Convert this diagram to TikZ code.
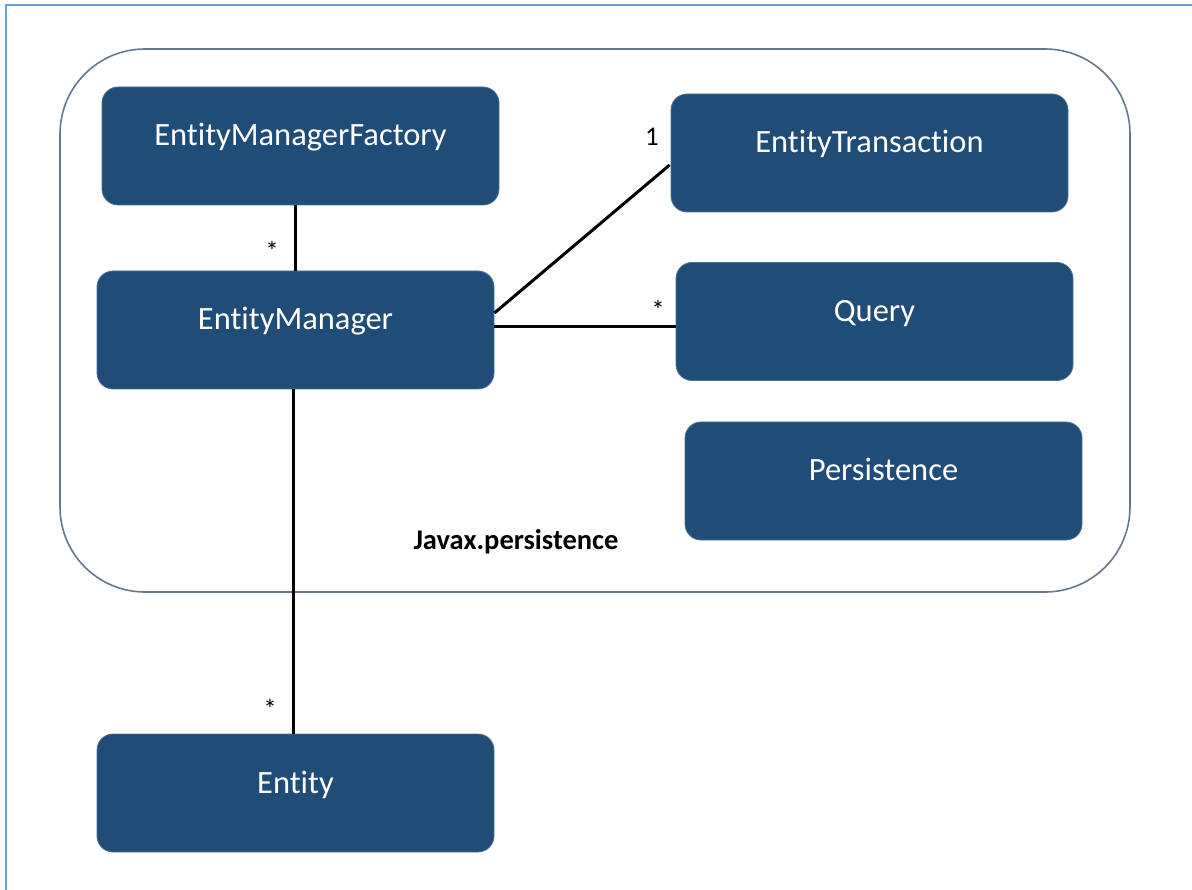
\documentclass[tikz,border=0pt]{standalone}
\usepackage{fontspec}
\setmainfont{Carlito}[Ligatures=NoCommon]
\usetikzlibrary{calc}
\definecolor{boxblue}{HTML}{1F4D78}
\definecolor{frameblue}{HTML}{6A9FD8}
\definecolor{pkggray}{HTML}{66788C}
\begin{document}
\begin{tikzpicture}[x=1pt,y=-1pt,
  cls/.style={rectangle, rounded corners=16pt, fill=boxblue, draw=boxblue!80!white, line width=0.8pt,
    minimum width=397pt, minimum height=118pt, inner sep=0pt,
    text height=20pt, text depth=20pt, text=white,
    font=\fontsize{32.5}{38}\selectfont},
  assoc/.style={draw=black, line width=3pt},
  mult/.style={font=\fontsize{27}{30}\selectfont, inner sep=0pt, text=black}]
\useasboundingbox (0,0) rectangle (1192,890);
\fill[white] (0,0) rectangle (1192,890);
% outer frame
\draw[frameblue, line width=2pt] (6,890) -- (6,5) -- (1192,5);
% package
\node[draw=pkggray, line width=1.6pt, rounded corners=85pt, minimum width=1070pt, minimum height=543pt, inner sep=0pt] (pkg) at (595,320.5) {};
\node[font=\bfseries\fontsize{28.5}{32}\selectfont, inner sep=0pt, anchor=base] (pkglabel) at (516,549) {Javax.persistence};
% classes
\node[cls] (emf) at (300.5,146) {EntityManagerFactory};
\node[cls] (em) at (295.5,330) {EntityManager};
\node[cls] (et) at (869.5,153) {EntityTransaction};
\node[cls] (query) at (874.5,321.5) {Query};
\node[cls] (pers) at (883.5,481) {Persistence};
\node[cls] (entity) at (295.5,793) {Entity};
% connectors
\draw[assoc] (em.north |- emf.south) -- (em.north);
\draw[assoc] ($(em.east)+(0,-17)$) -- ($(et.west)+(-1,12)$);
\draw[assoc] ($(em.east)+(0,-3)$) -- ($(query.west)+(0,5.5)$);
\draw[assoc] ($(em.south)+(-2.5,0)$) -- ($(entity.north)+(-2.5,0)$);
% multiplicities
\node[mult] (m1) at (272,251) {*};
\node[mult] (m2) at (652,137) {1};
\node[mult] (m3) at (658,310) {*};
\node[mult] (m4) at (270,709) {*};
\end{tikzpicture}
\end{document}
